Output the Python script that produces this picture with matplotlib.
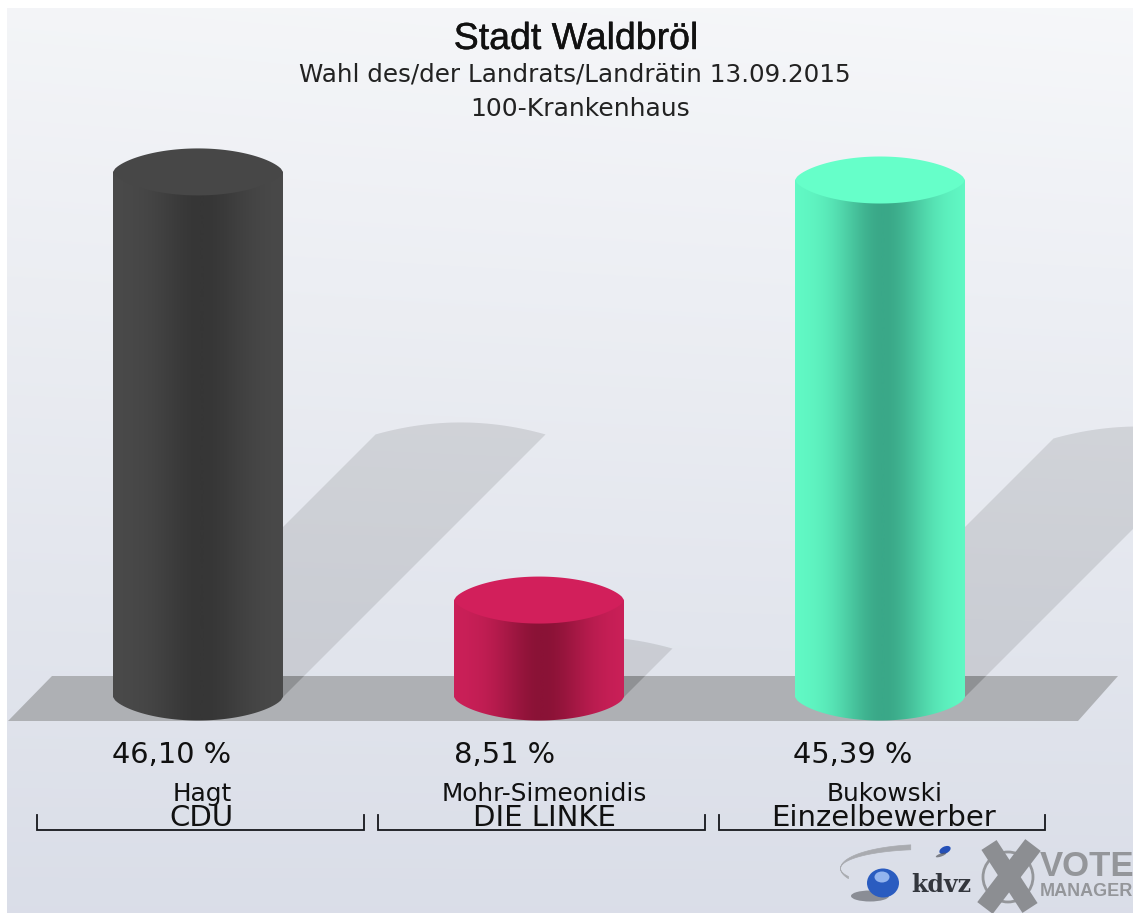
import numpy as np
import matplotlib
matplotlib.use("Agg")
import matplotlib.pyplot as plt
import matplotlib.patheffects as pe
from matplotlib.colors import LinearSegmentedColormap
from matplotlib.patches import Ellipse, PathPatch, Polygon
from matplotlib.path import Path

plt.rcParams['font.family'] = ['DejaVu Sans']

# datos
title = "Stadt Waldbröl"
subtitle = "Wahl des/der Landrats/Landrätin 13.09.2015"
subtitle2 = "100-Krankenhaus"
names = ["Hagt", "Mohr-Simeonidis", "Bukowski"]
parties = ["CDU", "DIE LINKE", "Einzelbewerber"]
values = [46.10, 8.51, 45.39]
value_labels = ["46,10 %", "8,51 %", "45,39 %"]

edge_colors = ["#4a4a4a", "#cc2059", "#62fbc6"]
mid_colors = ["#363636", "#8a1236", "#3aa888"]
top_colors = ["#474747", "#d21f5b", "#66ffc9"]

W, H = 1133, 913
X0, DX = 198.0, 341.0   # px of the first bar, px between bars
Y0, PX_PER = 697.0, 11.39   # px of value 0, px per percent
BAR_W = 170.0 / DX
ELL_B = 23.5 / PX_PER


def lens(c):
    # perfil casi eliptico, las esquinas quedan algo marcadas
    return (1 - c ** 2) ** 0.65


fig = plt.figure(figsize=(W / 100, H / 100), dpi=100, facecolor="white")

# capa de fondo en pixeles
bg = fig.add_axes([0, 0, 1, 1])
yy, xx = np.mgrid[0:1:400j, 0:1:400j]
r = 0.955 - 0.100 * yy + 0.01 * xx * (1 - yy)
g = 0.960 - 0.090 * yy + 0.01 * xx * (1 - yy)
b = 0.970 - 0.060 * yy + 0.01 * xx * (1 - yy)
bg.imshow(np.clip(np.dstack([r, g, b]), 0, 1), extent=(7, W, H, 8), aspect="auto", zorder=0,
          interpolation="bilinear")
bg.set_xlim(0, W)
bg.set_ylim(H, 0)
bg.axis("off")

floor = [(8, 721), (1078, 721), (1118, 676), (52, 676)]
bg.add_patch(Polygon(floor, closed=True, fc="#aeb0b4", ec="none", zorder=1))

# barras en coordenadas de datos
ax = fig.add_axes([0, 0, 1, 1])
ax.axis("off")
ax.patch.set_alpha(0)

c = np.linspace(-1, 1, 81)
for i, v in enumerate(values):
    # sombra
    ox = 0.5 * v * PX_PER / DX
    oy = 0.5 * v
    sx = i + ox - BAR_W / 2 * c
    sy = oy + 12.0 / PX_PER * (1 - c ** 2)
    pts = list(zip(sx, sy)) + [(i - BAR_W / 2, 0), (i + BAR_W / 2, 0)]
    ax.add_patch(Polygon(pts, closed=True, fc="black", alpha=0.10, ec="none", zorder=2))
    s2 = Polygon(pts, closed=True, fc="black", alpha=0.08, ec="none", zorder=2)
    ax.add_patch(s2)
    s2.set_clip_path(Polygon(floor, closed=True, transform=bg.transData))

for i, v in enumerate(values):
    # cuerpo del cilindro
    left, right = i - BAR_W / 2, i + BAR_W / 2
    cx = i + BAR_W / 2 * c
    low = -ELL_B * lens(c)
    verts = list(zip(cx, low)) + [(right, v), (left, v), (cx[0], low[0])]
    body = Path(verts, closed=True)
    cmap = LinearSegmentedColormap.from_list("cyl", [edge_colors[i], mid_colors[i]])
    u = np.linspace(0, 1, 512)
    grad = np.exp(-((u - 0.52) ** 2) / (2 * 0.19 ** 2)).reshape(1, -1)
    im = ax.imshow(grad, cmap=cmap, vmin=0, vmax=1, aspect="auto", zorder=3,
                   extent=(left, right, -2 * ELL_B, v), interpolation="bilinear")
    pp = PathPatch(body, fc="none", ec="none", transform=ax.transData)
    ax.add_patch(pp)
    im.set_clip_path(pp)
    tx = np.concatenate([cx, cx[::-1]])
    ty = np.concatenate([v + ELL_B * lens(c), v - ELL_B * lens(c)[::-1]])
    ax.add_patch(Polygon(list(zip(tx, ty)), closed=True, fc=top_colors[i], ec="none", zorder=4))

ax.set_xlim((0 - X0) / DX, (W - X0) / DX)
ax.set_ylim((Y0 - H) / PX_PER, Y0 / PX_PER)

# textos
top = fig.add_axes([0, 0, 1, 1])
top.set_xlim(0, W)
top.set_ylim(H, 0)
top.axis("off")
top.patch.set_alpha(0)

txt = "#111111"
soft = [pe.withStroke(linewidth=0.3, foreground=txt)]
top.text(576, 39, title, ha="center", va="center", fontsize=27, color=txt,
         family="Liberation Sans", path_effects=soft)
top.text(575, 75, subtitle, ha="center", va="center", fontsize=17.7, color="#222222")
top.text(580, 109, subtitle2, ha="center", va="center", fontsize=18, color="#222222")

label_x = [172, 505, 853]
name_x = [202, 544, 885]
party_x = [201, 544, 883]
for i in range(3):
    top.text(label_x[i], 755, value_labels[i], ha="center", va="center", fontsize=20.8, color=txt)
    top.text(name_x[i], 794, names[i], ha="center", va="center", fontsize=17.8, color=txt)
    top.text(party_x[i], 818, parties[i], ha="center", va="center", fontsize=21, color=txt)

brackets = [(37, 364), (378, 705), (719, 1045)]
for a, e in brackets:
    top.plot([a, a, e, e], [815, 830, 830, 815], color="#15171c", lw=1.3, solid_joinstyle="miter")

# logos
th = np.linspace(np.radians(100), np.radians(205), 40)
top.fill_between(925 + 85 * np.cos(th), 868 - 24 * np.sin(th), 868 - 19 * np.sin(th),
                 color="#a9abb0", lw=0.5)
top.add_patch(Ellipse((870, 896), 38, 11, fc="#55585e", ec="none", alpha=0.6))
top.add_patch(Ellipse((883, 883), 32, 29, fc="#2a5cc0", ec="none"))
top.add_patch(Ellipse((882, 877), 15, 11, fc="#93b4ee", ec="none"))
top.add_patch(Ellipse((945, 850), 12, 7, fc="#2450b8", ec="none", angle=-25))
top.add_patch(Ellipse((941, 855), 11, 3, fc="#55585e", ec="none", angle=-20, alpha=0.7))
top.text(941, 885, "kdvz", ha="center", va="center", fontsize=17, fontweight="bold",
         family="DejaVu Serif", color="#33363d")
top.add_patch(Ellipse((1008, 877), 50, 50, fc="none", ec="#94969a", lw=2))
top.plot([989, 1030], [845, 908], color="#8c8e92", lw=13, solid_capstyle="butt")
top.plot([1033, 985], [845, 908], color="#8c8e92", lw=14, solid_capstyle="butt")
top.text(1040, 866, "VOTE", ha="left", va="center", fontsize=25, fontweight="bold",
         family="Liberation Sans", color="#94969a")
top.text(1040, 892, "MANAGER", ha="left", va="center", fontsize=13, fontweight="bold",
         family="Liberation Sans", color="#94969a")

fig.savefig("out.png", dpi=100)
